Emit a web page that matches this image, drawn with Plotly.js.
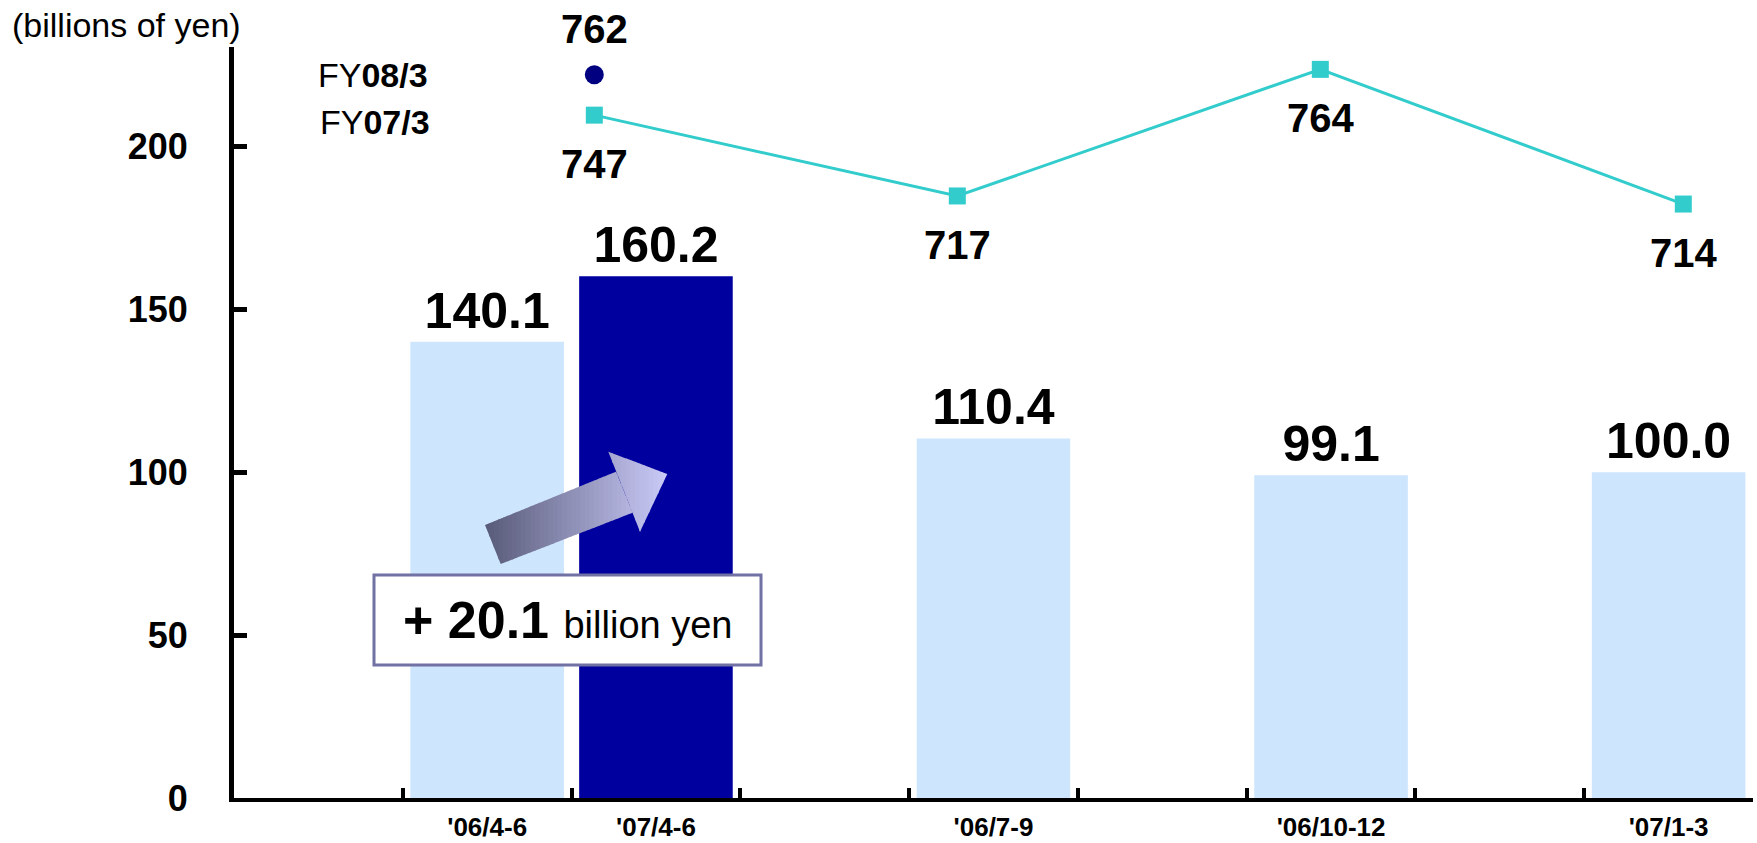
<!DOCTYPE html>
<html>
<head>
<meta charset="utf-8">
<script src="https://cdn.plot.ly/plotly-3.0.1.min.js"></script>
<style>html,body{margin:0;padding:0;background:#fff;}#chart{width:1757px;height:843px;}</style>
</head>
<body>
<div id="chart"></div>
<script>
// ---- data ----
const categories = ["'06/4-6", "'07/4-6", "'06/7-9", "'06/10-12", "'07/1-3"];
const salesValues = [140.1, 160.2, 110.4, 99.1, 100.0];
const barColors = ['#cde5fd', '#00009f', '#cde5fd', '#cde5fd', '#cde5fd'];
const quarters = ['4-6', '7-9', '10-12', '1-3'];
const fy07Values = [747, 717, 764, 714];
const fy08Values = [762];
const yTickVals = [0, 50, 100, 150, 200];
const changeText = '+ 20.1';
const unitLabel = '(billions of yen)';

// ---- layout helpers ----
const W = 1757, H = 843;
const M = {l: 234, r: 4, t: 47, b: 45};
const PW = W - M.l - M.r, PH = H - M.t - M.b;
const px = x => (x - M.l) / PW;
const py = y => (H - M.b - y) / PH;
const FONT = 'Liberation Sans, Arial, sans-serif';

// category order with empty spacer slots
const spacer = n => '\u200b'.repeat(n);
const slotOrder = [spacer(1), categories[0], categories[1], spacer(2), categories[2], spacer(3), categories[3], spacer(4), categories[4]];

const traces = [
  {
    type: 'bar', x: categories, y: salesValues, width: 0.91,
    marker: {color: barColors, line: {width: 0}},
    texttemplate: '%{y:.1f}', textposition: 'outside', cliponaxis: false,
    textfont: {family: FONT, size: 50, color: '#000', weight: 'bold'},
    hoverinfo: 'skip', showlegend: false
  },
  {
    type: 'scatter', mode: 'lines+markers', x: quarters, y: fy07Values,
    xaxis: 'x2', yaxis: 'y2', cliponaxis: false,
    line: {color: '#33cccc', width: 3},
    marker: {symbol: 'square', size: 17, color: '#33cccc'},
    showlegend: false, hoverinfo: 'skip'
  },
  {
    type: 'scatter', mode: 'markers', x: quarters.slice(0, fy08Values.length), y: fy08Values,
    xaxis: 'x2', yaxis: 'y2', cliponaxis: false,
    marker: {symbol: 'circle', size: 19, color: '#000080'},
    showlegend: false, hoverinfo: 'skip'
  }
];

// ---- arrow with horizontal gradient, built from strips ----
function clip(poly, keep, inter) {
  const out = [];
  for (let i = 0; i < poly.length; i++) {
    const p = poly[i], q = poly[(i + 1) % poly.length];
    const kp = keep(p), kq = keep(q);
    if (kp) out.push(p);
    if (kp !== kq) out.push(inter(p, q));
  }
  return out;
}
function clipStrip(poly, x0, x1) {
  const ix = xc => (p, q) => { const t = (xc - p[0]) / (q[0] - p[0]); return [xc, p[1] + t * (q[1] - p[1])]; };
  let r = clip(poly, p => p[0] >= x0, ix(x0));
  if (r.length) r = clip(r, p => p[0] <= x1, ix(x1));
  return r;
}
const body = [[500.7, 564], [485, 525], [616, 471.7], [632.7, 512.7]];
const head = [[608.3, 451.7], [667.3, 474], [640, 531.7]];
const shapes = [];
const xmin = 485, xmax = 667.3, N = 40;
const c0 = [88, 90, 120], c1 = [202, 202, 248];
for (let i = 0; i < N; i++) {
  const x0 = xmin + (xmax - xmin) * i / N - 0.4;
  const x1 = xmin + (xmax - xmin) * (i + 1) / N + 0.4;
  const t = (i + 0.5) / N;
  const col = 'rgb(' + c0.map((c, k) => Math.round(c + (c1[k] - c) * t)).join(',') + ')';
  [body, head].forEach(poly => {
    const pts = clipStrip(poly, x0, x1);
    if (pts.length >= 3) {
      const path = 'M' + pts.map(p => px(p[0]).toFixed(5) + ',' + py(p[1]).toFixed(5)).join('L') + 'Z';
      shapes.push({type: 'path', xref: 'paper', yref: 'paper', path: path, fillcolor: col, line: {width: 0}, layer: 'above'});
    }
  });
}
// text box
shapes.push({type: 'rect', xref: 'paper', yref: 'paper', x0: px(374), x1: px(761), y0: py(665), y1: py(575),
  fillcolor: '#ffffff', line: {color: '#7171a3', width: 3}, layer: 'above'});

// ---- annotations ----
const annotations = [];
fy07Values.forEach((v, i) => annotations.push({
  x: quarters[i], y: v, xref: 'x2', yref: 'y2', text: String(v), showarrow: false,
  yanchor: 'middle', yshift: -49, font: {family: FONT, size: 40, color: '#000', weight: 'bold'}
}));
fy08Values.forEach((v, i) => annotations.push({
  x: quarters[i], y: v, xref: 'x2', yref: 'y2', text: String(v), showarrow: false,
  yanchor: 'middle', yshift: 46, font: {family: FONT, size: 40, color: '#000', weight: 'bold'}
}));
annotations.push({x: quarters[0], y: fy08Values[0], xref: 'x2', yref: 'y2', text: 'FY<b>08/3</b>',
  showarrow: false, xanchor: 'right', xshift: -164, yanchor: 'middle', font: {family: FONT, size: 34, color: '#000'}});
annotations.push({x: quarters[0], y: fy07Values[0], xref: 'x2', yref: 'y2', text: 'FY<b>07/3</b>',
  showarrow: false, xanchor: 'right', xshift: -162, yanchor: 'middle', yshift: -7, font: {family: FONT, size: 34, color: '#000'}});
annotations.push({xref: 'paper', yref: 'paper', x: px(10), y: py(25), xanchor: 'left', yanchor: 'middle',
  text: unitLabel, showarrow: false, font: {family: FONT, size: 34, color: '#000'}});
annotations.push({xref: 'paper', yref: 'paper', x: px(567.5), y: py(620), xanchor: 'center', yanchor: 'middle',
  text: '<b>' + changeText + '</b> <span style="font-size:38px">billion yen</span>', showarrow: false,
  font: {family: FONT, size: 52, color: '#000'}});

const layout = {
  width: W, height: H, margin: M, paper_bgcolor: '#fff', plot_bgcolor: '#fff',
  font: {family: FONT, color: '#000'},
  showlegend: false,
  xaxis: {
    type: 'category', categoryorder: 'array', categoryarray: slotOrder, range: [-0.5, slotOrder.length - 0.5],
    tickson: 'boundaries', ticks: 'inside', ticklen: 10, tickwidth: 4, tickcolor: '#000',
    showline: true, linewidth: 4, linecolor: '#000', showgrid: false, zeroline: false,
    tickfont: {family: FONT, size: 26, color: '#000', weight: 'bold'}, ticklabelstandoff: 3, fixedrange: true
  },
  yaxis: {
    range: [0, 230.6], tickmode: 'array', tickvals: yTickVals, ticktext: yTickVals.map(String),
    ticks: 'inside', ticklen: 13, tickwidth: 5, tickcolor: '#000',
    showline: true, linewidth: 5, linecolor: '#000', showgrid: false, zeroline: false,
    tickfont: {family: FONT, size: 36, color: '#000', weight: 'bold'}, ticklabelstandoff: 34, fixedrange: true
  },
  xaxis2: {type: 'category', overlaying: 'x', categoryorder: 'array', categoryarray: quarters,
    range: [-0.9926, 3.192], visible: false, fixedrange: true},
  yaxis2: {overlaying: 'y', range: [493.5, 772.3], visible: false, fixedrange: true},
  shapes: shapes,
  annotations: annotations
};

Plotly.newPlot('chart', traces, layout, {staticPlot: true, displayModeBar: false});
</script>
</body>
</html>
